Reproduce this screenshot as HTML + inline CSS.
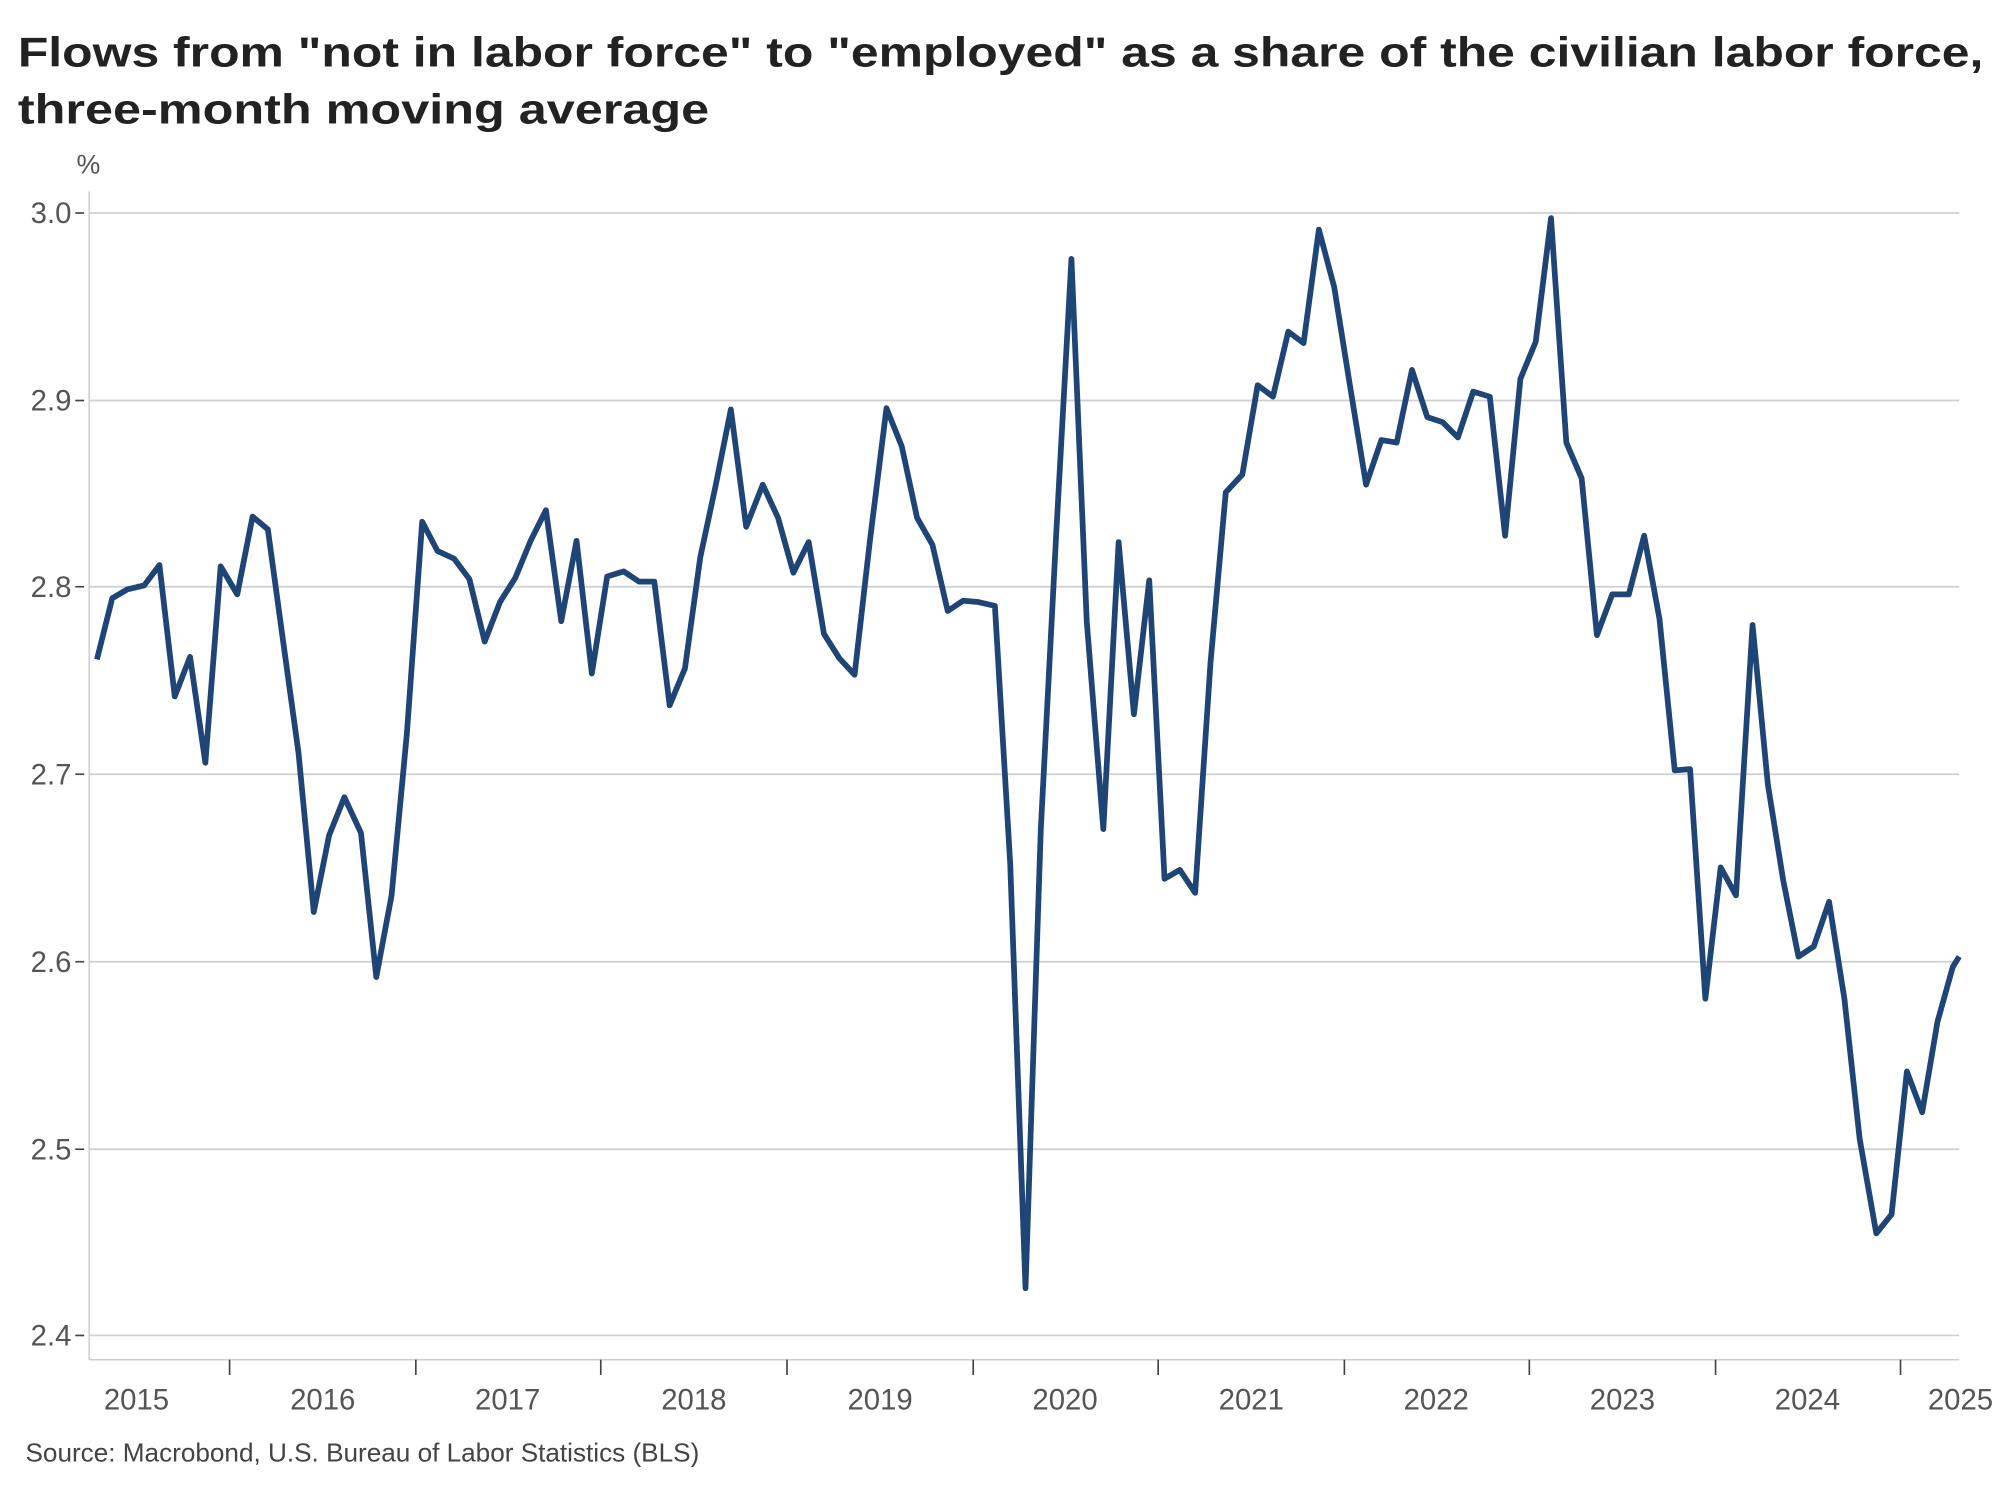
<!DOCTYPE html>
<html><head><meta charset="utf-8"><style>
html,body{margin:0;padding:0;background:#fff;}
svg{display:block;}
text{font-family:"Liberation Sans",sans-serif;}
</style></head><body>
<svg width="2000" height="1500" viewBox="0 0 1568 1176" xmlns="http://www.w3.org/2000/svg">
<rect width="1568" height="1176" fill="#fff"/>
<text x="14" y="52" font-size="33" font-weight="bold" fill="#222" textLength="1541" lengthAdjust="spacingAndGlyphs">Flows from "not in labor force" to "employed" as a share of the civilian labor force,</text>
<text x="14" y="97" font-size="33" font-weight="bold" fill="#222" textLength="542" lengthAdjust="spacingAndGlyphs">three-month moving average</text>
<text x="60" y="136" font-size="21" fill="#555">%</text>
<g stroke="#cfcfcf" stroke-width="1.3">
<line x1="70" y1="167" x2="1536" y2="167"/>
<line x1="70" y1="314" x2="1536" y2="314"/>
<line x1="70" y1="460" x2="1536" y2="460"/>
<line x1="70" y1="607" x2="1536" y2="607"/>
<line x1="70" y1="754" x2="1536" y2="754"/>
<line x1="70" y1="901" x2="1536" y2="901"/>
<line x1="70" y1="1047" x2="1536" y2="1047"/>
<line x1="70" y1="150" x2="70" y2="1066"/>
<line x1="70" y1="1066" x2="1536" y2="1066"/>
</g>
<g stroke="#444" stroke-width="1.3">
<line x1="59" y1="167" x2="66" y2="167"/><line x1="59" y1="314" x2="66" y2="314"/><line x1="59" y1="460" x2="66" y2="460"/><line x1="59" y1="607" x2="66" y2="607"/><line x1="59" y1="754" x2="66" y2="754"/><line x1="59" y1="901" x2="66" y2="901"/><line x1="59" y1="1047" x2="66" y2="1047"/>
<line x1="180" y1="1066" x2="180" y2="1078"/><line x1="326" y1="1066" x2="326" y2="1078"/><line x1="471" y1="1066" x2="471" y2="1078"/><line x1="617" y1="1066" x2="617" y2="1078"/><line x1="763" y1="1066" x2="763" y2="1078"/><line x1="908" y1="1066" x2="908" y2="1078"/><line x1="1054" y1="1066" x2="1054" y2="1078"/><line x1="1199" y1="1066" x2="1199" y2="1078"/><line x1="1345" y1="1066" x2="1345" y2="1078"/><line x1="1490" y1="1066" x2="1490" y2="1078"/>
</g>
<g font-size="23" fill="#555" text-anchor="end">
<text x="56" y="175">3.0</text><text x="56" y="322">2.9</text><text x="56" y="468">2.8</text><text x="56" y="615">2.7</text><text x="56" y="762">2.6</text><text x="56" y="909">2.5</text><text x="56" y="1055">2.4</text>
</g>
<g font-size="23" fill="#555" text-anchor="middle">
<text x="107" y="1105">2015</text><text x="253" y="1105">2016</text><text x="398" y="1105">2017</text><text x="544" y="1105">2018</text><text x="690" y="1105">2019</text><text x="835" y="1105">2020</text><text x="981" y="1105">2021</text><text x="1126" y="1105">2022</text><text x="1272" y="1105">2023</text><text x="1417" y="1105">2024</text><text x="1537" y="1105">2025</text>
</g>
<text x="20" y="1146" font-size="20.5" fill="#444">Source: Macrobond, U.S. Bureau of Labor Statistics (BLS)</text>
<polyline fill="none" stroke="#1f4476" stroke-width="4.5" stroke-linejoin="round" points="76,517 88,469 100,462 113,459 125,443 137,546 149,515 161,598 173,444 186,466 198,405 210,415 222,503 234,590 246,715 258,655 270,625 283,653 295,766 307,702 319,575 331,409 343,432 356,438 368,454 380,503 392,472 404,453 416,424 428,400 440,487 452,424 464,528 476,452 489,448 501,456 513,456 525,553 537,524 549,437 561,381 573,321 585,413 598,380 610,406 622,449 634,425 646,497 658,516 670,529 682,424 695,320 707,350 719,406 731,427 743,479 755,471 767,472 780,475 792,677 804,1010 816,650 828,420 840,203 852,487 865,650 877,425 889,560 901,455 913,689 925,682 937,700 949,520 961,386 974,372 986,302 998,311 1010,260 1022,269 1034,180 1046,225 1058,300 1071,380 1083,345 1095,347 1107,290 1119,327 1131,331 1143,343 1155,307 1168,311 1180,420 1192,297 1204,268 1216,171 1228,347 1240,375 1252,498 1264,466 1277,466 1289,420 1301,485 1313,604 1325,603 1337,783 1349,680 1361,702 1374,490 1386,615 1398,690 1410,750 1422,742 1434,707 1446,783 1458,893 1471,967 1483,952 1495,840 1507,872 1519,801 1531,758 1536,750"/>
</svg>
</body></html>
